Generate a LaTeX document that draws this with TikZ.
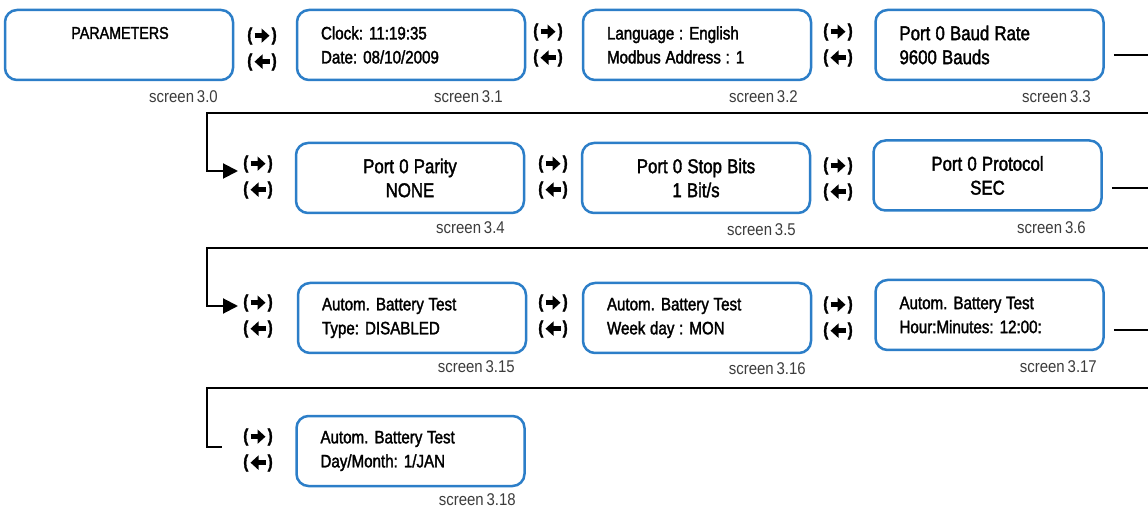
\documentclass[tikz,border=0pt]{standalone}
\usepackage{fontspec}
\usepackage{graphicx}
\setmainfont{Liberation Sans}[FakeStretch=0.84, FakeBold=1.8]
\newfontfamily\labfont{Liberation Sans}[FakeStretch=0.88, WordSpace=0.7]
\usetikzlibrary{arrows.meta}
\definecolor{boxblue}{RGB}{44,126,200}
\definecolor{labgray}{RGB}{60,60,60}
\newcommand{\harrow}{\tikz[baseline=-5pt]{\draw[line width=4.4pt, -{Triangle[length=8pt,width=14pt]}] (0pt,0pt) -- (15pt,0pt);}}
\newcommand{\navR}{{\bfseries(}\harrow{\bfseries)}}
\newcommand{\navL}{{\bfseries(}\reflectbox{\harrow}{\bfseries)}}
\newcommand{\bx}[1]{\parbox{180pt}{\spaceskip=0.26em plus 0.1em\relax #1}}
\newcommand{\cbx}[1]{\parbox{180pt}{\centering\spaceskip=0.26em plus 0.1em\relax #1}}
\tikzset{
  box/.style={draw=boxblue, line width=2.5pt, rounded corners=12pt,
    minimum width=228pt, minimum height=70pt, inner xsep=24pt, inner ysep=0pt,
    font=\fontsize{18}{24}\selectfont},
  bigbox/.style={box, font=\fontsize{20}{24}\selectfont},
  lab/.style={anchor=east, text=labgray, inner sep=0pt, font=\labfont\fontsize{17}{20}\selectfont},
  nav/.style={align=center, inner sep=0pt, font=\fontsize{18}{26}\selectfont},
  conn/.style={line width=2pt},
  tip/.style={-{Triangle[length=15pt,width=15pt]}}
}
\begin{document}
\begin{tikzpicture}[x=1pt,y=-1pt]
\fill[white] (0,0) rectangle (1148,510);
\useasboundingbox (0,0) rectangle (1148,510);

% row 1
\node[box] (s30) at (119,45) {};
\node[font=\fontsize{17}{24}\selectfont, inner sep=0pt] (t30) at (120,33) {PARAMETERS};
\node[box] (s31) at (411,45) {\bx{Clock: 11:19:35\\Date: 08/10/2009}};
\node[box] (s32) at (697,45) {\bx{Language : English\\Modbus Address : 1}};
\node[bigbox] (s33) at (989.5,45) {\bx{Port 0 Baud Rate\\9600 Bauds}};
\node[nav] (n1a) at (262,49) {\navR\\\navL};
\node[nav] (n1b) at (548,45) {\navR\\\navL};
\node[nav] (n1c) at (838,45) {\navR\\\navL};
\node[lab] (l30) at (218,97) {screen 3.0};
\node[lab] (l31) at (503,97) {screen 3.1};
\node[lab] (l32) at (798,97) {screen 3.2};
\node[lab] (l33) at (1091,97) {screen 3.3};

% row 2
\node[bigbox] (s34) at (410,178) {\cbx{Port 0 Parity\\NONE}};
\node[bigbox] (s35) at (696,178) {\cbx{Port 0 Stop Bits\\1 Bit/s}};
\node[bigbox] (s36) at (987.5,175.5) {\cbx{Port 0 Protocol\\SEC}};
\node[nav] (n2a) at (258,177) {\navR\\\navL};
\node[nav] (n2b) at (553,177) {\navR\\\navL};
\node[nav] (n2c) at (838,179) {\navR\\\navL};
\node[lab] (l34) at (505,228) {screen 3.4};
\node[lab] (l35) at (796,230) {screen 3.5};
\node[lab] (l36) at (1086,228) {screen 3.6};

% row 3
\node[box] (s315) at (412,318) {\bx{Autom. Battery Test\\Type: DISABLED}};
\node[box] (s316) at (697,318) {\bx{Autom. Battery Test\\Week day : MON}};
\node[box] (s317) at (989.5,315) {\bx{Autom. Battery Test\\Hour:Minutes: 12:00:}};
\node[nav] (n3a) at (258,316) {\navR\\\navL};
\node[nav] (n3b) at (553,316) {\navR\\\navL};
\node[nav] (n3c) at (838,318) {\navR\\\navL};
\node[lab] (l315) at (515,367) {screen 3.15};
\node[lab] (l316) at (806,369) {screen 3.16};
\node[lab] (l317) at (1097,367) {screen 3.17};

% row 4
\node[box] (s318) at (410.5,451) {\bx{Autom. Battery Test\\Day/Month: 1/JAN}};
\node[nav] (n4a) at (258,450) {\navR\\\navL};
\node[lab] (l318) at (516,500) {screen 3.18};

% connectors
\coordinate (r1) at (1148,55);
\coordinate (r1b) at (1148,113);
\coordinate (k1) at (207,113);
\coordinate (a2) at (238,171);
\coordinate (r2) at (1148,188);
\coordinate (r2b) at (1148,248);
\coordinate (k2) at (207,248);
\coordinate (a3) at (238,306);
\coordinate (r3) at (1148,330);
\coordinate (r3b) at (1148,388);
\coordinate (k3) at (207,388);
\coordinate (a4) at (222,447);

\draw[conn] (s33.east |- r1) ++(9,0) -- (r1);
\draw[conn, tip] (r1b) -- (k1) |- (a2);
\draw[conn] (s36.east |- r2) ++(9,0) -- (r2);
\draw[conn, tip] (r2b) -- (k2) |- (a3);
\draw[conn] (s317.east |- r3) ++(9,0) -- (r3);
\draw[conn] (r3b) -- (k3) |- (a4);
\end{tikzpicture}
\end{document}
